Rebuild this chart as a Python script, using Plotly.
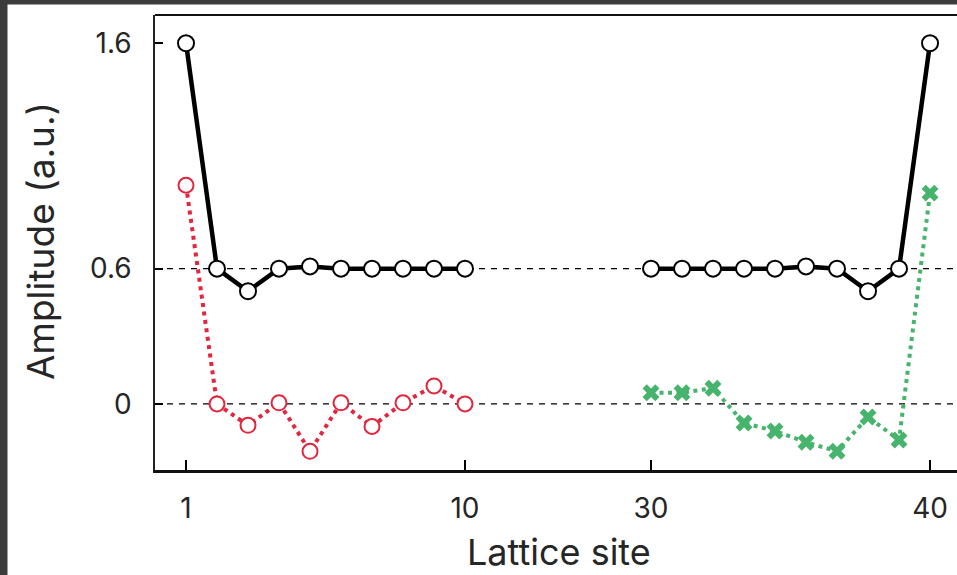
import plotly.graph_objects as go

# ---------------- data ----------------
sites_left = [1, 2, 3, 4, 5, 6, 7, 8, 9, 10]
sites_right = [31, 32, 33, 34, 35, 36, 37, 38, 39, 40]
black_left = [1.6, 0.6, 0.5, 0.6, 0.61, 0.6, 0.6, 0.6, 0.6, 0.6]
black_right = [0.6, 0.6, 0.6, 0.6, 0.6, 0.61, 0.6, 0.5, 0.6, 1.6]
red_left = [0.97, 0.0, -0.095, 0.005, -0.21, 0.005, -0.10, 0.005, 0.08, 0.0]
green_right = [0.05, 0.05, 0.07, -0.085, -0.12, -0.17, -0.21, -0.058, -0.16, 0.935]
x_tick_labels = ["1", "10", "30", "40"]
y_tick_vals = [0, 0.6, 1.6]
y_tick_labels = ["0", "0.6", "1.6"]
ref_levels = [0.6, 0.0]

# broken x axis: the two groups are drawn on one axis with a compressed gap
GAP = 6
pos_left = [i for i in range(len(sites_left))]
pos_right = [len(sites_left) - 1 + GAP + i for i in range(len(sites_right))]
tick_pos = [pos_left[0], pos_left[-1], pos_right[0], pos_right[-1]]

RED = "#e2263e"
GREEN = "#47b46d"
FONT = "Inter"
TXT = "#262626"

# layout geometry (pixels)
W, H = 957, 575
L, R, T, B = 155, 0, 15, 105
PW, PH = W - L - R, H - T - B


def px_x(p):
    return (p - L) / PW


def px_y(p):
    return (H - B - p) / PH


fig = go.Figure()

# dashed reference lines
for lv in ref_levels:
    fig.add_shape(type="line", xref="paper", x0=0, x1=1, yref="y", y0=lv, y1=lv,
                  line=dict(color="black", width=1.3, dash="6px,6px"), layer="below")

fig.add_trace(go.Scatter(x=pos_left, y=red_left, mode="lines+markers",
                         line=dict(color=RED, width=4, dash="4px,4.5px"),
                         marker=dict(symbol="circle", size=15, color="white",
                                     line=dict(color=RED, width=2)),
                         showlegend=False))
fig.add_trace(go.Scatter(x=pos_right, y=green_right, mode="lines+markers",
                         line=dict(color=GREEN, width=4, dash="4px,4.5px"),
                         marker=dict(symbol="x", size=15, color=GREEN,
                                     line=dict(width=0)),
                         showlegend=False))
for xs, ys in ((pos_left, black_left), (pos_right, black_right)):
    fig.add_trace(go.Scatter(x=xs, y=ys, mode="lines+markers",
                             line=dict(color="black", width=4.5),
                             marker=dict(symbol="circle", size=16, color="white",
                                         line=dict(color="black", width=2)),
                             showlegend=False))

# top frame line
fig.add_shape(type="line", xref="paper", yref="paper", x0=0, x1=1, y0=1, y1=1,
              line=dict(color="#111", width=2))

# dark screenshot border (top and left strips)
fig.add_shape(type="rect", xref="paper", yref="paper", x0=px_x(0), x1=px_x(W + 2),
              y0=px_y(4.5), y1=px_y(-2), fillcolor="#3c3c3c", line=dict(width=0))
fig.add_shape(type="rect", xref="paper", yref="paper", x0=px_x(-2), x1=px_x(7.5),
              y0=px_y(H + 2), y1=px_y(-2), fillcolor="#3c3c3c", line=dict(width=0))

# axis titles
fig.add_annotation(text="Lattice site", xref="paper", yref="paper",
                   x=px_x(559), y=px_y(575), xanchor="center", yanchor="bottom",
                   showarrow=False, borderpad=0,
                   font=dict(family=FONT, size=36, color=TXT))
fig.add_annotation(text="Amplitude (a.u.)", xref="paper", yref="paper",
                   x=px_x(40), y=px_y(241), xanchor="center", yanchor="middle",
                   textangle=-90, showarrow=False,
                   font=dict(family=FONT, size=37, color=TXT))

fig.update_xaxes(range=[-1.0, 24.87], tickmode="array", tickvals=tick_pos,
                 ticktext=x_tick_labels, ticks="inside", ticklen=10, tickwidth=1.5,
                 tickcolor="black", showline=True, linecolor="#111", linewidth=2.5,
                 showgrid=False, zeroline=False, ticklabelstandoff=12,
                 tickfont=dict(family=FONT, size=28, color=TXT))
fig.update_yaxes(range=[-0.293, 1.725], tickmode="array", tickvals=y_tick_vals,
                 ticktext=y_tick_labels, ticks="inside", ticklen=8, tickwidth=1.5,
                 tickcolor="black", showline=True, linecolor="#222", linewidth=1.5,
                 showgrid=False, zeroline=False, ticklabelstandoff=16,
                 tickfont=dict(family=FONT, size=28, color=TXT))

fig.update_layout(width=W, height=H, margin=dict(l=L, r=R, t=T, b=B),
                  paper_bgcolor="white", plot_bgcolor="white", showlegend=False)

fig.write_html("out.html")
